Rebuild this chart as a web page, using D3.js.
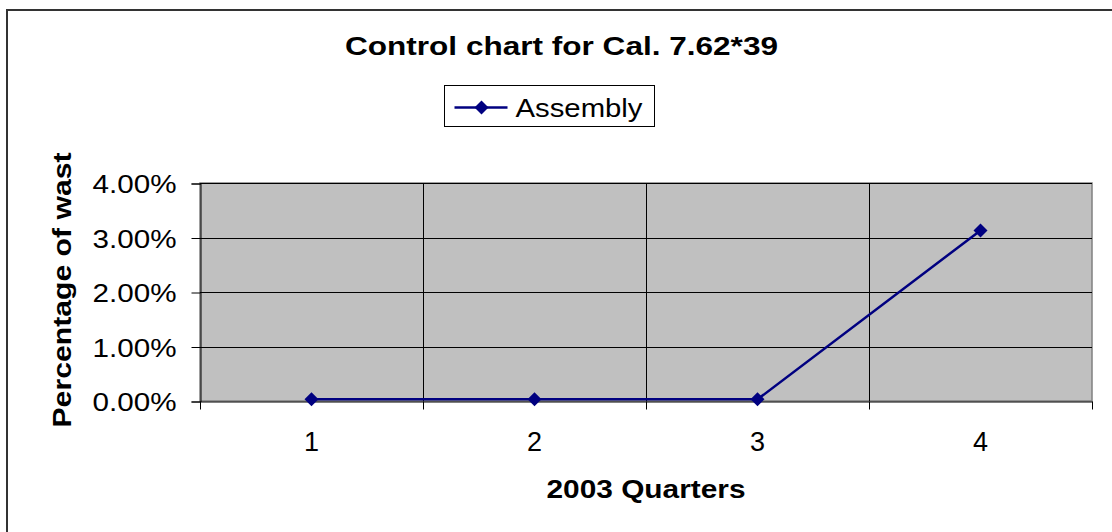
<!DOCTYPE html>
<html>
<head>
<meta charset="utf-8">
<script src="https://cdn.jsdelivr.net/npm/d3@7"></script>
<style>
  body { margin: 0; background: #fff; }
  svg { display: block; font-family: "Liberation Sans", Arial, sans-serif; }
</style>
</head>
<body>
<div class="chart"></div>
<script>
// Chart data
const quarters = ['1', '2', '3', '4'];
const assembly = [0.0003, 0.0003, 0.0003, 0.0313];
const yTicks = [0, 0.01, 0.02, 0.03, 0.04];

const outerWidth = 1112;
const outerHeight = 532;
const plot = { left: 200, right: 1092, top: 183, bottom: 401 };

const svg = d3.select('.chart')
  .append('svg')
    .attr('width', outerWidth)
    .attr('height', outerHeight);

// outer chart border (runs off the right and bottom edges)
svg.append('rect')
  .attr('x', 7).attr('y', 10)
  .attr('width', 1130).attr('height', 560)
  .attr('fill', '#fff')
  .attr('stroke', '#333')
  .attr('stroke-width', 2);

const x = d3.scaleBand()
  .domain(quarters)
  .range([plot.left, plot.right]);

const y = d3.scaleLinear()
  .domain([0, 0.04])
  .range([plot.bottom, plot.top]);

// plot background
svg.append('rect')
  .attr('x', plot.left).attr('y', plot.top)
  .attr('width', plot.right - plot.left)
  .attr('height', plot.bottom - plot.top)
  .attr('fill', '#c0c0c0')
  .attr('stroke', '#808080')
  .attr('stroke-width', 1.5);

// horizontal gridlines
svg.append('g')
  .selectAll('line')
  .data(yTicks.slice(1))
  .enter().append('line')
    .attr('x1', plot.left).attr('x2', plot.right)
    .attr('y1', d => Math.round(y(d)) + 0.5)
    .attr('y2', d => Math.round(y(d)) + 0.5)
    .attr('stroke', '#000')
    .attr('stroke-width', 1);

// vertical gridlines between categories
svg.append('g')
  .selectAll('line')
  .data(quarters.slice(1))
  .enter().append('line')
    .attr('x1', d => Math.round(x(d)) + 0.5)
    .attr('x2', d => Math.round(x(d)) + 0.5)
    .attr('y1', plot.top).attr('y2', plot.bottom)
    .attr('stroke', '#000')
    .attr('stroke-width', 1);

// y axis
const yAxis = d3.axisLeft(y)
  .tickValues(yTicks)
  .tickFormat(d3.format('.2%'))
  .tickSize(9)
  .tickPadding(15);

const yG = svg.append('g')
  .attr('transform', `translate(${plot.left + 0.5},0.5)`)
  .call(yAxis);
yG.select('.domain').attr('stroke', '#000');
yG.selectAll('.tick line').attr('stroke', '#000');
yG.selectAll('text')
  .attr('font-size', 26)
  .attr('font-family', '"Liberation Sans", Arial, sans-serif')
  .attr('fill', '#000')
  .attr('textLength', 84)
  .attr('lengthAdjust', 'spacingAndGlyphs')
  .attr('dy', '0.36em');

// x axis: ticks at the category boundaries, labels at the centres
const xAxis = d3.axisBottom(x).tickSize(0).tickPadding(30);
const xG = svg.append('g')
  .attr('transform', `translate(0,${plot.bottom + 0.5})`)
  .call(xAxis);
xG.select('.domain').attr('stroke', '#000');
xG.selectAll('text')
  .attr('font-size', 27)
  .attr('font-family', '"Liberation Sans", Arial, sans-serif')
  .attr('fill', '#000');

const boundaries = quarters.map(d => x(d)).concat([plot.right]);
xG.selectAll('.bound')
  .data(boundaries)
  .enter().append('line')
    .attr('class', 'bound')
    .attr('x1', d => Math.round(d) + 0.5)
    .attr('x2', d => Math.round(d) + 0.5)
    .attr('y1', 0).attr('y2', 8)
    .attr('stroke', '#000');

// data line and markers
const line = d3.line()
  .x((d, i) => x(quarters[i]) + x.bandwidth() / 2)
  .y(d => y(d));

svg.append('path')
  .datum(assembly)
  .attr('d', line)
  .attr('fill', 'none')
  .attr('stroke', '#000080')
  .attr('stroke-width', 2.5);

// diamond = square turned 45 degrees, about 14px across
const diamond = d3.symbol().type(d3.symbolSquare).size(98);

svg.append('g')
  .selectAll('path')
  .data(assembly)
  .enter().append('path')
    .attr('d', diamond)
    .attr('transform', (d, i) =>
      `translate(${x(quarters[i]) + x.bandwidth() / 2},${y(d)}) rotate(45)`)
    .attr('fill', '#000080');

// title
svg.append('text')
  .attr('x', 561.5).attr('y', 55)
  .attr('text-anchor', 'middle')
  .attr('font-size', 26)
  .attr('font-weight', 'bold')
  .attr('textLength', 433)
  .attr('lengthAdjust', 'spacingAndGlyphs')
  .text('Control chart for Cal. 7.62*39');

// axis titles
svg.append('text')
  .attr('x', 646).attr('y', 498)
  .attr('text-anchor', 'middle')
  .attr('font-size', 26)
  .attr('font-weight', 'bold')
  .attr('textLength', 199)
  .attr('lengthAdjust', 'spacingAndGlyphs')
  .text('2003 Quarters');

svg.append('text')
  .attr('transform', `translate(71,${(plot.top + plot.bottom) / 2 - 2}) rotate(-90)`)
  .attr('text-anchor', 'middle')
  .attr('font-size', 26)
  .attr('font-weight', 'bold')
  .attr('textLength', 275)
  .attr('lengthAdjust', 'spacingAndGlyphs')
  .text('Percentage of wast');

// legend
const legend = svg.append('g').attr('transform', 'translate(444.5,85.5)');
legend.append('rect')
  .attr('width', 210).attr('height', 41)
  .attr('fill', '#fff')
  .attr('stroke', '#000');
legend.append('line')
  .attr('x1', 10).attr('x2', 63)
  .attr('y1', 22).attr('y2', 22)
  .attr('stroke', '#000080')
  .attr('stroke-width', 2.5);
legend.append('path')
  .attr('d', diamond)
  .attr('transform', 'translate(37,22) rotate(45)')
  .attr('fill', '#000080');
legend.append('text')
  .attr('x', 71).attr('y', 31)
  .attr('font-size', 26)
  .attr('textLength', 127)
  .attr('lengthAdjust', 'spacingAndGlyphs')
  .text('Assembly');
</script>
</body>
</html>
